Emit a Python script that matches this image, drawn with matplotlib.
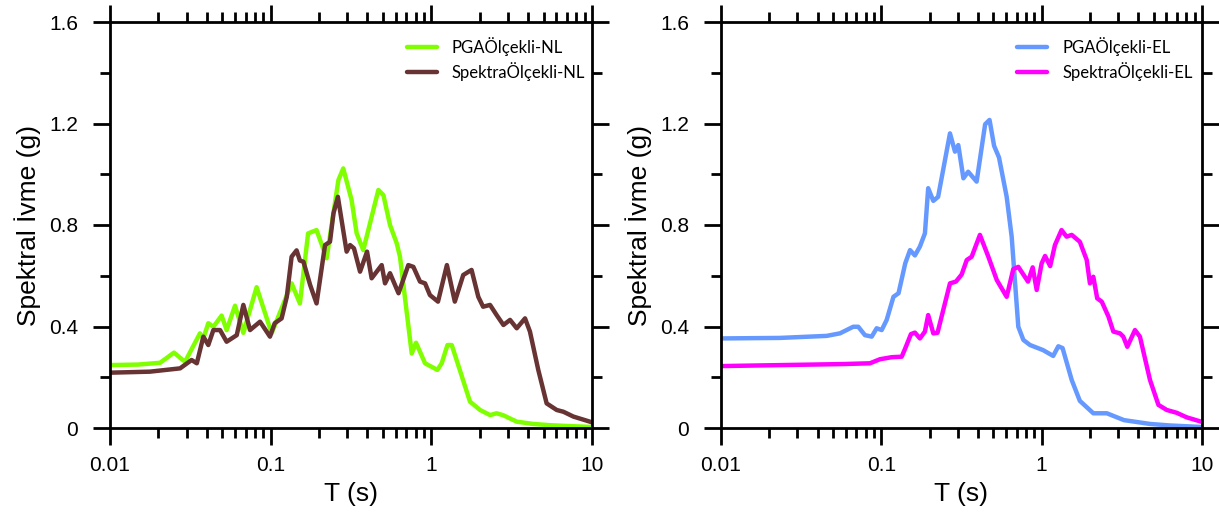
import numpy as np
import matplotlib.pyplot as plt
import matplotlib
from matplotlib.ticker import LogLocator, MultipleLocator, FixedLocator, NullFormatter

matplotlib.rcParams['font.family'] = ['Liberation Sans', 'DejaVu Sans']

# periods (s) and spectral accelerations (g), non-linear runs
t_pga_nl = [0.01, 0.015, 0.0205, 0.025, 0.0293, 0.0363, 0.0381, 0.0409, 0.044, 0.0495,
            0.0532, 0.06, 0.0676, 0.0818, 0.1014, 0.135, 0.152, 0.171, 0.193, 0.223,
            0.264, 0.283, 0.319, 0.343, 0.377, 0.468, 0.503, 0.553, 0.609, 0.638,
            0.755, 0.803, 0.914, 1.09, 1.16, 1.26, 1.34, 1.74, 2.01, 2.32,
            2.55, 2.81, 3.40, 4.30, 5.48, 6.97, 10.0]
sa_pga_nl = [0.248, 0.250, 0.257, 0.297, 0.261, 0.373, 0.353, 0.413, 0.399, 0.443,
             0.386, 0.482, 0.375, 0.555, 0.373, 0.570, 0.491, 0.767, 0.780, 0.669,
             0.977, 1.023, 0.898, 0.767, 0.701, 0.938, 0.918, 0.800, 0.728, 0.675,
             0.294, 0.336, 0.255, 0.229, 0.255, 0.327, 0.327, 0.104, 0.071, 0.051,
             0.058, 0.050, 0.025, 0.016, 0.011, 0.008, 0.004]

t_spk_nl = [0.01, 0.0177, 0.0273, 0.0322, 0.0347, 0.0381, 0.0409, 0.044, 0.0484, 0.0532,
            0.0615, 0.0676, 0.0744, 0.0859, 0.099, 0.106, 0.117, 0.126, 0.135, 0.145,
            0.152, 0.160, 0.176, 0.193, 0.218, 0.234, 0.246, 0.262, 0.297, 0.312,
            0.330, 0.360, 0.398, 0.425, 0.491, 0.515, 0.553, 0.625, 0.719, 0.773,
            0.850, 0.914, 0.98, 1.10, 1.25, 1.40, 1.58, 1.78, 1.96, 2.10,
            2.32, 2.55, 2.81, 3.09, 3.40, 3.83, 4.11, 4.63, 5.22, 6.03,
            6.64, 7.66, 9.7, 10.0]
sa_spk_nl = [0.218, 0.222, 0.235, 0.268, 0.255, 0.360, 0.327, 0.386, 0.386, 0.340,
             0.366, 0.485, 0.386, 0.419, 0.360, 0.413, 0.432, 0.517, 0.675, 0.700,
             0.660, 0.655, 0.564, 0.491, 0.721, 0.734, 0.846, 0.911, 0.695, 0.721,
             0.708, 0.616, 0.695, 0.590, 0.642, 0.570, 0.610, 0.531, 0.642, 0.635,
             0.577, 0.570, 0.524, 0.498, 0.642, 0.498, 0.603, 0.623, 0.517, 0.478,
             0.485, 0.445, 0.406, 0.426, 0.393, 0.432, 0.380, 0.229, 0.097, 0.071,
             0.064, 0.045, 0.025, 0.022]

# elastic runs
t_pga_el = [0.01, 0.0233, 0.0456, 0.0552, 0.0668, 0.0718, 0.079, 0.0871, 0.0935, 0.1005,
            0.108, 0.119, 0.128, 0.141, 0.151, 0.162, 0.174, 0.187, 0.196, 0.211,
            0.226, 0.268, 0.288, 0.302, 0.325, 0.348, 0.393, 0.444, 0.473, 0.505,
            0.542, 0.605, 0.650, 0.715, 0.769, 0.846, 1.02, 1.18, 1.27, 1.35,
            1.54, 1.73, 2.10, 2.55, 3.26, 4.74, 6.3, 10.0]
sa_pga_el = [0.353, 0.355, 0.363, 0.373, 0.399, 0.399, 0.366, 0.360, 0.393, 0.386,
             0.426, 0.517, 0.531, 0.649, 0.701, 0.680, 0.715, 0.767, 0.945, 0.895,
             0.911, 1.161, 1.089, 1.115, 0.984, 1.010, 0.971, 1.197, 1.214, 1.112,
             1.066, 0.911, 0.754, 0.399, 0.347, 0.327, 0.307, 0.284, 0.322, 0.315,
             0.189, 0.107, 0.058, 0.058, 0.031, 0.016, 0.010, 0.004]

t_spk_el = [0.01, 0.0579, 0.0849, 0.098, 0.116, 0.134, 0.141, 0.153, 0.162, 0.174,
            0.187, 0.196, 0.211, 0.224, 0.268, 0.292, 0.317, 0.341, 0.366, 0.412,
            0.465, 0.525, 0.605, 0.665, 0.715, 0.822, 0.879, 0.931, 1.0, 1.05,
            1.13, 1.21, 1.33, 1.43, 1.54, 1.73, 1.91, 2.00, 2.10, 2.22,
            2.37, 2.61, 2.80, 3.08, 3.23, 3.42, 3.82, 4.10, 4.74, 5.35,
            6.03, 6.95, 8.03, 10.0]
sa_spk_el = [0.244, 0.252, 0.255, 0.271, 0.279, 0.281, 0.314, 0.370, 0.376, 0.353,
             0.380, 0.445, 0.373, 0.375, 0.570, 0.577, 0.605, 0.662, 0.675, 0.761,
             0.675, 0.583, 0.517, 0.626, 0.635, 0.577, 0.633, 0.544, 0.649, 0.678,
             0.638, 0.721, 0.780, 0.754, 0.761, 0.734, 0.662, 0.570, 0.596, 0.511,
             0.498, 0.439, 0.380, 0.373, 0.360, 0.320, 0.386, 0.360, 0.189, 0.091,
             0.071, 0.060, 0.042, 0.024]

xticks = [0.01, 0.1, 1, 10]
xtick_labels = ['0.01', '0.1', '1', '10']
yticks = [0, 0.4, 0.8, 1.2, 1.6]
ytick_labels = ['0', '0.4', '0.8', '1.2', '1.6']

fig = plt.figure(figsize=(12.19, 5.21), dpi=100)
ax1 = fig.add_axes([110/1219, 93/521, 482/1219, 406/521])
ax2 = fig.add_axes([721/1219, 93/521, 481/1219, 406/521])


def style_axes(ax):
	ax.set_xscale('log')
	ax.set_xlim(0.01, 10)
	ax.set_ylim(0, 1.6)
	ax.xaxis.set_major_locator(FixedLocator(xticks))
	ax.set_xticklabels(xtick_labels)
	ax.xaxis.set_minor_locator(LogLocator(base=10, subs=np.arange(2, 10)))
	ax.xaxis.set_minor_formatter(NullFormatter())
	ax.set_yticks(yticks)
	ax.set_yticklabels(ytick_labels)
	ax.yaxis.set_minor_locator(MultipleLocator(0.2))
	for spine in ax.spines.values():
		spine.set_linewidth(2)
	ax.tick_params(which='both', direction='out', top=True, right=True, width=2)
	ax.tick_params(which='major', length=12, labelsize=15)
	ax.tick_params(axis='x', which='major', pad=8)
	ax.tick_params(axis='y', which='major', pad=11)
	ax.tick_params(which='minor', length=7)
	ax.set_xlabel('T (s)', fontsize=19, labelpad=5)
	ax.set_ylabel('Spektral İvme (g)', fontsize=19, labelpad=6)


style_axes(ax1)
style_axes(ax2)

line_kw = dict(linewidth=3.2, solid_joinstyle='round', solid_capstyle='round')
ax1.plot(t_pga_nl, sa_pga_nl, color='#80FF00', label='PGAÖlçekli-NL', **line_kw)
ax1.plot(t_spk_nl, sa_spk_nl, color='#673333', label='SpektraÖlçekli-NL', **line_kw)
ax2.plot(t_pga_el, sa_pga_el, color='#6699FF', label='PGAÖlçekli-EL', **line_kw)
ax2.plot(t_spk_el, sa_spk_el, color='#FF00FF', label='SpektraÖlçekli-EL', **line_kw)

for ax in (ax1, ax2):
	ax.legend(loc='upper left', bbox_to_anchor=(0.585, 1.0), frameon=False,
		prop={'family': 'Lato', 'size': 12}, handlelength=1.8, handletextpad=0.9,
		labelspacing=0.35)

plt.savefig('out.png', dpi=100)
